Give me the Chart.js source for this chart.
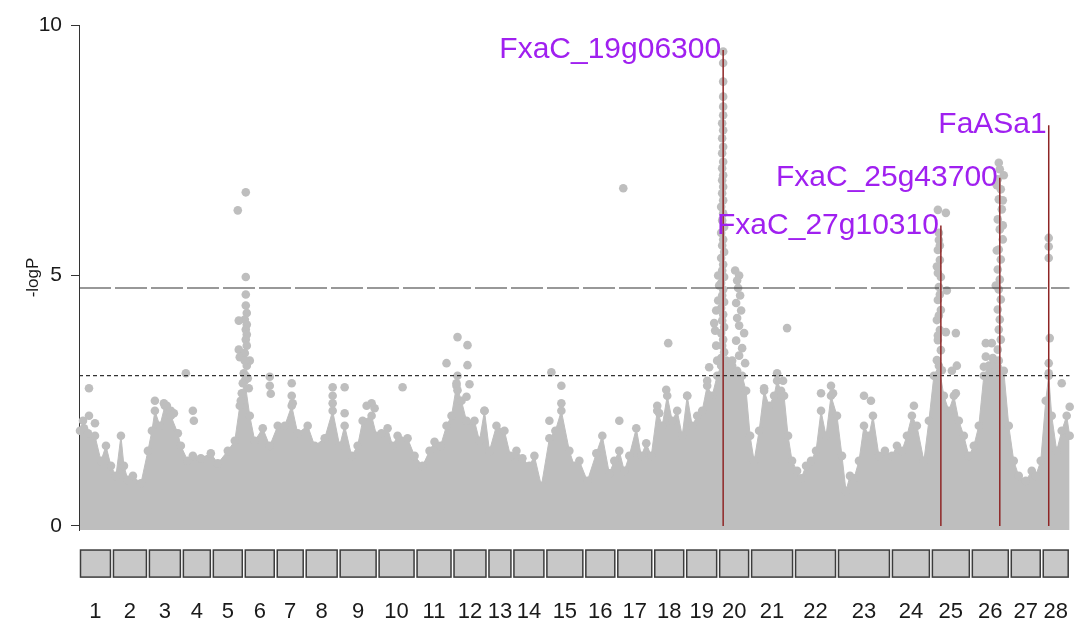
<!DOCTYPE html>
<html>
<head>
<meta charset="utf-8">
<script src="https://cdn.jsdelivr.net/npm/chart.js@4.4.1/dist/chart.umd.min.js"></script>
<style>
  html, body { margin: 0; padding: 0; background: #fff; }
  #wrap { width: 1074px; height: 628px; position: relative; }
</style>
</head>
<body>
<div id="wrap"><canvas id="manhattan"></canvas></div>
<script>
// chromosomes and their lengths (cumulative genome coordinate units)
const chromNames = ['1','2','3','4','5','6','7','8','9','10','11','12','13','14',
  '15','16','17','18','19','20','21','22','23','24','25','26','27','28'];
const chromLengths = [33, 36, 34, 30, 32, 32, 29, 34, 39, 38, 37, 35, 25, 33,
  39, 32, 37, 32, 33, 32, 44, 43, 54, 40, 40, 39, 32, 28];

// top of the dense SNP cloud along the genome
const bandPos = [1, 5, 9, 16, 22, 27, 32, 37, 42, 45, 49, 54, 62, 69, 73, 76, 81, 86, 92, 99,
  102, 109, 114, 122, 132, 139, 149, 156, 161, 166, 171, 176, 184, 191, 199, 206, 213, 219, 229, 236,
  246, 254, 261, 266, 273, 279, 284, 293, 298, 303, 309, 314, 319, 329, 336, 344, 351, 356, 362, 368,
  373, 378, 383, 388, 396, 401, 406, 411, 418, 426, 432, 438, 444, 451, 456, 463, 471, 477, 483, 491,
  496, 501, 509, 518, 524, 531, 536, 541, 546, 551, 558, 563, 568, 573, 579, 584, 589, 594, 599, 604,
  609, 614, 619, 624, 629, 634, 639, 643, 648, 654, 659, 664, 668, 672, 676, 681, 686, 691, 696, 699,
  703, 706, 710, 714, 719, 723, 728, 733, 738, 743, 748, 753, 759, 764, 768, 772, 776, 781, 786, 791,
  795, 801, 807, 814, 819, 824, 829, 834, 839, 846, 851, 856, 861, 866, 871, 876, 881, 886, 891, 896,
  901, 906, 911, 916, 921, 926, 931, 936, 941, 948, 954, 958, 963, 968, 971, 974, 979, 984, 989, 992];
const bandLogP = [1.9, 1.95, 1.85, 1.8, 1.3, 1.6, 1.2, 1.0, 1.8, 1.2, 0.92, 1.0, 0.85, 1.5, 1.9, 2.3, 2.0, 2.4, 2.2, 1.85,
  1.6, 1.3, 1.4, 1.35, 1.45, 1.25, 1.5, 1.7, 2.4, 2.9, 2.2, 1.7, 1.95, 1.6, 2.0, 2.0, 2.4, 1.85, 2.0, 1.6,
  1.75, 2.3, 1.6, 2.0, 1.4, 1.6, 2.1, 2.2, 1.8, 1.85, 1.95, 1.6, 1.8, 1.75, 1.4, 1.2, 1.5, 1.68, 1.6, 2.0,
  2.2, 2.8, 2.5, 2.1, 2.1, 1.7, 2.3, 1.5, 2.0, 1.9, 1.4, 1.5, 1.35, 1.2, 1.4, 0.8, 1.75, 1.9, 2.3, 1.5,
  1.2, 1.3, 0.9, 1.45, 1.8, 1.05, 1.3, 1.5, 1.1, 1.4, 1.95, 1.4, 1.65, 1.4, 2.3, 2.0, 2.6, 2.1, 2.3, 1.8,
  2.6, 2.0, 2.2, 2.3, 2.8, 2.6, 3.0, 3.2, 3.3, 3.2, 3.1, 3.0, 2.7, 1.8, 1.3, 1.9, 2.7, 2.4, 2.6, 2.9,
  2.7, 2.6, 1.8, 1.3, 1.1, 0.95, 1.2, 1.3, 1.5, 2.3, 1.8, 2.6, 2.2, 1.4, 0.7, 1.0, 0.95, 1.3, 2.0, 1.8,
  2.2, 1.4, 1.5, 1.4, 1.6, 1.5, 1.8, 2.2, 2.0, 1.3, 2.1, 3.0, 3.2, 2.6, 2.3, 2.6, 2.1, 1.8, 1.4, 1.6,
  2.0, 3.0, 3.2, 3.3, 3.3, 3.1, 2.0, 1.3, 1.0, 0.9, 1.1, 1.0, 1.3, 2.5, 3.0, 2.2, 1.5, 1.9, 2.2, 1.8];

// individual SNPs standing out above the cloud
const snpPos = [
  10, 10, 16, 4,
  76, 85, 88, 92, 95,
  107, 114, 115,
  159, 167, 167, 167, 167, 168, 166, 160, 168, 167, 168, 167, 168, 160, 166, 161, 171, 168, 165, 169, 164, 170, 163, 162, 166, 167,
  191, 191, 192,
  213, 213, 214,
  254, 254, 254, 266, 266,
  288, 293, 296,
  324,
  368, 379, 389, 389, 391, 379, 388, 379, 378,
  406,
  473, 483, 483, 471,
  541, 545,
  579, 581, 588, 590,
  609, 629, 631, 636, 631,
  645, 645, 645, 645, 645, 645, 644, 645, 644, 645, 644, 645, 644, 645, 644, 645, 644, 645, 643, 645, 644,
  646, 643, 645, 644, 646, 643, 645, 644, 646, 643, 645, 644, 646, 643, 645, 644, 646, 643, 645, 644, 646, 643,
  640, 641, 640, 638, 637, 638, 639,
  657, 661, 659, 660, 662, 658, 663, 659, 661, 666, 658, 664, 661, 667, 654,
  709, 699, 705, 686,
  743, 753, 755,
  793, 836, 786,
  860, 868, 861, 860, 862, 859, 863, 861, 869, 860, 863, 859, 862, 860, 863, 859, 864, 861, 862, 860, 862, 861, 860,
  868, 878, 879, 878, 874,
  921, 922, 920, 923, 921, 924, 920, 922, 925, 921, 923, 920, 922, 921, 923, 920, 922, 921, 923, 920, 926, 925, 925, 919, 919, 918,
  908, 914, 908, 906, 915,
  971, 971, 971, 972, 971, 971, 984, 992];
const snpLogP = [
  2.75, 2.2, 2.05, 2.1,
  2.5, 2.45, 2.4, 2.3, 2.25,
  3.05, 2.3, 2.1,
  6.3, 6.66, 4.97, 4.62, 4.4, 4.25, 4.12, 4.1, 4.02, 3.92, 3.82, 3.72, 3.6, 3.52, 3.45, 3.37, 3.3, 3.2, 3.05, 2.95, 2.85, 2.75, 2.65, 2.5, 3.3, 3.0,
  2.98, 2.8, 2.64,
  2.85, 2.6, 2.45,
  2.77, 2.6, 2.45, 2.77, 2.25,
  2.4, 2.45, 2.35,
  2.77,
  3.25, 3.77, 3.61, 3.21, 2.83, 2.71, 2.58, 3.0, 2.85,
  2.3,
  3.07, 2.8, 2.45, 2.1,
  2.1, 6.74,
  2.4, 2.25, 2.72, 3.65,
  2.6, 2.9, 2.6, 4.05, 3.17,
  9.47, 9.24, 8.87, 8.57, 8.37, 8.2, 8.04, 7.9, 7.74, 7.57, 7.44, 7.27, 7.14, 7.0, 6.9, 6.77, 6.64, 6.5, 6.37, 6.24, 6.1,
  5.97, 5.85, 5.72, 5.6, 5.47, 5.35, 5.22, 5.1, 4.97, 4.85, 4.72, 4.6, 4.47, 4.35, 4.22, 4.1, 3.97, 3.85, 3.72, 3.6, 3.47, 3.35,
  5.0, 4.8, 4.5, 4.3, 3.9, 3.6, 3.3,
  5.1, 5.0, 4.9, 4.75, 4.6, 4.45, 4.3, 4.15, 4.0, 3.85, 3.7, 3.55, 3.4, 3.25, 3.3,
  3.95, 3.05, 2.9, 2.75,
  2.65, 2.8, 2.65,
  2.5, 2.4, 2.6,
  6.31, 6.25, 5.71, 5.51, 5.31, 5.18, 4.97, 4.77, 4.7, 4.51, 4.31, 4.11, 3.91, 3.71, 3.51, 3.31, 3.11, 5.85, 5.6, 5.05, 4.62, 4.2, 3.8,
  3.87, 3.85, 3.2, 2.65, 3.1,
  7.25, 7.12, 6.92, 6.72, 6.52, 6.32, 6.12, 5.92, 5.72, 5.52, 5.32, 5.12, 4.92, 4.72, 4.52, 4.32, 4.12, 3.92, 3.72, 3.52, 7.0, 6.5, 6.0, 5.5, 6.8, 4.8,
  3.65, 3.65, 3.38, 3.18, 3.35,
  5.75, 5.58, 5.35, 3.75, 3.25, 3.05, 2.85, 2.38];

// candidate genes marked on the plot
const geneNames = ['FxaC_19g06300', 'FxaC_27g10310', 'FxaC_25g43700', 'FaASa1'];
const genePos = [645, 863, 922, 971];
const geneTop = [9.5, 6.0, 6.95, 8.0];

// significance thresholds (-logP)
const sigLevel = 4.75;
const suggestLevel = 3.0;

const chromStarts = [];
let acc = 0;
chromLengths.forEach(len => { chromStarts.push(acc); acc += len; });
const genomeEnd = acc;
const chromMids = chromStarts.map((s, i) => s + chromLengths[i] / 2);

const gray = '#BEBEBE';
const fontFamily = '"Liberation Sans", Arial, sans-serif';

// grey chromosome boxes under the plot
const chromBoxes = {
  id: 'chromBoxes',
  afterDraw(chart) {
    const {ctx, scales: {x, y}} = chart;
    const top = y.getPixelForValue(-0.48);
    const bottom = y.getPixelForValue(-1.02);
    ctx.save();
    ctx.fillStyle = '#C8C8C8';
    ctx.strokeStyle = '#3c3c3c';
    ctx.lineWidth = 1.5;
    chromStarts.forEach((s, i) => {
      const x0 = x.getPixelForValue(s) + 1.5;
      const x1 = x.getPixelForValue(s + chromLengths[i]) - 1.5;
      ctx.fillRect(x0, top, x1 - x0, bottom - top);
      ctx.strokeRect(x0, top, x1 - x0, bottom - top);
    });
    ctx.restore();
  }
};

// gene names to the left of each marker line
const geneLabels = {
  id: 'geneLabels',
  afterDatasetsDraw(chart) {
    const {ctx, scales: {x, y}} = chart;
    ctx.save();
    ctx.font = '30px ' + fontFamily;
    ctx.fillStyle = '#A020F0';
    ctx.textAlign = 'right';
    ctx.textBaseline = 'middle';
    geneNames.forEach((name, i) => {
      ctx.fillText(name, x.getPixelForValue(genePos[i]) - 2, y.getPixelForValue(geneTop[i]));
    });
    ctx.restore();
  }
};

const hLine = (level, dash, order) => ({
  data: [{x: 0, y: level}, {x: genomeEnd, y: level}],
  showLine: true,
  borderColor: '#333',
  borderWidth: 1.2,
  borderDash: dash,
  pointRadius: 0,
  order: order
});

const geneLines = genePos.map((p, i) => ({
  data: [{x: p, y: 0}, {x: p, y: geneTop[i]}],
  showLine: true,
  borderColor: '#8E2525',
  borderWidth: 1.5,
  pointRadius: 0,
  clip: false,
  order: 0
}));

const ctx = document.getElementById('manhattan');

var chart = new Chart(ctx, {
  type: 'scatter',
  data: {
    datasets: [
      ...geneLines,
      hLine(sigLevel, [32, 4], 1),
      hLine(suggestLevel, [4, 3], 1),
      {
        data: snpPos.map((p, i) => ({x: p, y: snpLogP[i]})),
        backgroundColor: gray,
        borderWidth: 0,
        pointRadius: 4.3,
        clip: false,
        order: 3
      },
      {
        data: bandPos.map((p, i) => ({x: p, y: bandLogP[i]})),
        showLine: true,
        fill: {value: -0.08},
        backgroundColor: gray,
        borderColor: gray,
        borderWidth: 1,
        pointBackgroundColor: gray,
        pointBorderWidth: 0,
        pointRadius: 4.3,
        clip: false,
        order: 4
      }
    ]
  },
  options: {
    responsive: true,
    maintainAspectRatio: false,
    animation: false,
    layout: {
      padding: {top: 25, right: 3, bottom: 0, left: 0}
    },
    scales: {
      x: {
        type: 'linear',
        min: 0,
        max: genomeEnd,
        // invisible tick marks push the chromosome numbers below the boxes
        grid: {display: true, drawOnChartArea: false, drawTicks: true, tickLength: 66, color: 'rgba(0,0,0,0)'},
        border: {display: false},
        afterBuildTicks: scale => {
          scale.ticks = chromMids.map(v => ({value: v}));
        },
        afterFit: scale => { scale.height = 98; },
        ticks: {
          autoSkip: false,
          maxRotation: 0,
          minRotation: 0,
          padding: 3,
          color: '#1a1a1a',
          font: {family: fontFamily, size: 22},
          callback: (value, index) => chromNames[index]
        }
      },
      y: {
        min: -0.08,
        max: 10,
        grid: {drawOnChartArea: false, drawTicks: true, tickLength: 8, color: '#333'},
        border: {display: true, color: '#333', width: 1},
        afterBuildTicks: scale => {
          scale.ticks = [0, 5, 10].map(v => ({value: v}));
        },
        afterFit: scale => { scale.width = 79; },
        ticks: {
          padding: 9,
          color: '#1a1a1a',
          font: {family: fontFamily, size: 21}
        },
        title: {
          display: true,
          text: '-logP',
          color: '#1a1a1a',
          padding: {top: 23, bottom: 0},
          font: {family: fontFamily, size: 17}
        }
      }
    },
    plugins: {
      legend: {display: false},
      tooltip: {enabled: false}
    }
  },
  plugins: [chromBoxes, geneLabels]
});
</script>
</body>
</html>
